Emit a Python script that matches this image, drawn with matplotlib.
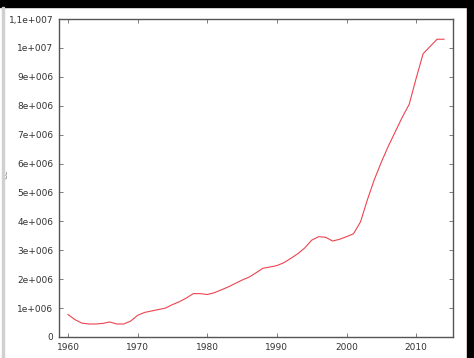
import matplotlib.pyplot as plt
from matplotlib.patches import Rectangle

years = list(range(1960, 2015))
values = [0.78, 0.60, 0.48, 0.45, 0.45, 0.47, 0.52, 0.45, 0.45, 0.55,
          0.75, 0.85, 0.90, 0.95, 1.00, 1.12, 1.22, 1.35, 1.50, 1.50,
          1.47, 1.53, 1.63, 1.73, 1.85, 1.97, 2.07, 2.22, 2.38, 2.42,
          2.47, 2.57, 2.72, 2.88, 3.08, 3.35, 3.47, 3.45, 3.32, 3.38,
          3.47, 3.57, 3.98, 4.75, 5.45, 6.05, 6.60, 7.10, 7.60, 8.05,
          8.95, 9.80, 10.05, 10.30, 10.30]
values = [v * 1e6 for v in values]

y_ticks = [i * 1e6 for i in range(12)]
y_labels = ['0', '1e+006', '2e+006', '3e+006', '4e+006', '5e+006', '6e+006',
            '7e+006', '8e+006', '9e+006', '1e+007', '1,1e+007']
x_ticks = [1960, 1970, 1980, 1990, 2000, 2010]

fig = plt.figure(figsize=(4.74, 3.58), dpi=100)
ax = fig.add_axes([59 / 474, 1 - 337 / 358, 394 / 474, 318 / 358])

ax.plot(years, values, color='#ec4450', lw=0.8)

ax.set_xlim(1958.71, 2015.29)
ax.set_ylim(0, 1.1e7)
ax.set_xticks(x_ticks)
ax.set_xticklabels([str(x) for x in x_ticks])
ax.set_yticks(y_ticks)
ax.set_yticklabels(y_labels)

ax.tick_params(direction='in', length=3, width=0.6, color='#666666',
               top=True, right=True, labelsize=6.5, labelcolor='#333333', pad=4)
for s in ax.spines.values():
    s.set_color('#555555')
    s.set_linewidth(1.0)

# screenshot frame
fig.patches.append(Rectangle((0, 1 - 7 / 358), 1, 7 / 358, transform=fig.transFigure,
                             color='black', zorder=10))
fig.patches.append(Rectangle((467 / 474, 0), 7 / 474, 1, transform=fig.transFigure,
                             color='black', zorder=10))
fig.patches.append(Rectangle((2 / 474, 0), 1.5 / 474, 1 - 7 / 358, transform=fig.transFigure,
                             color='#d0d0d0', zorder=10))

fig.text(0.0, 0.515, 'ce', rotation=90, fontsize=6, color='#888888', ha='left', va='center')

fig.savefig('out.png', dpi=100)
